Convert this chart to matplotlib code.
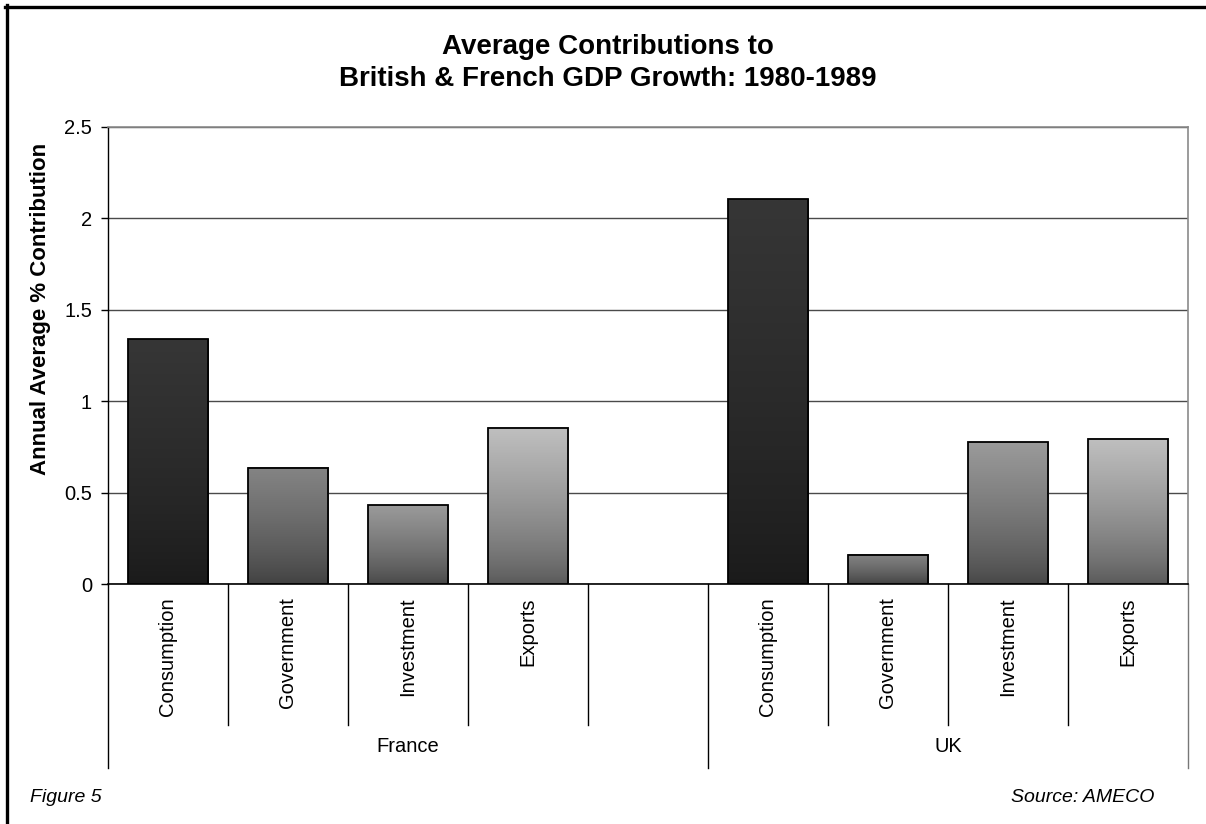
import numpy as np
import matplotlib
matplotlib.use('Agg')
import matplotlib.pyplot as plt
from matplotlib import rcParams
import matplotlib.transforms as mtransforms
from matplotlib.colors import LinearSegmentedColormap

rcParams['font.family'] = ['Liberation Sans', 'DejaVu Sans']

# data
components = ['Consumption', 'Government', 'Investment', 'Exports']
countries = ['France', 'UK']
france = [1.34, 0.635, 0.43, 0.855]
uk = [2.105, 0.16, 0.775, 0.795]
yticks = [0, 0.5, 1, 1.5, 2, 2.5]

# bottom -> top shades for each component
shades = {
    'Consumption': ('#1a1a1a', '#363636'),
    'Government': ('#404040', '#848484'),
    'Investment': ('#464646', '#9a9a9a'),
    'Exports': ('#585858', '#bfbfbf'),
}

# slot layout: 4 France bars, one empty slot, 4 UK bars
labels = components + [''] + components
n_slots = len(labels)
pos = [i for i, lab in enumerate(labels) if lab]
bar_labels = components + components
values = france + uk

fig = plt.figure(figsize=(12.06, 8.24), dpi=100)
ax = fig.add_axes([108 / 1206, (824 - 584) / 824, 1080 / 1206, 457 / 824])

bars = ax.bar(pos, values, width=0.667, facecolor='none', edgecolor='black',
              linewidth=1.3, zorder=4)

# gradient fill inside each bar
grad = np.linspace(0, 1, 256).reshape(-1, 1) ** 0.75
for lab, bar in zip(bar_labels, bars):
    c0, c1 = shades[lab]
    cmap = LinearSegmentedColormap.from_list(lab, [c0, c1])
    bx, bw, bh = bar.get_x(), bar.get_width(), bar.get_height()
    ax.imshow(grad, cmap=cmap, origin='lower', aspect='auto',
              extent=(bx, bx + bw, 0, bh), zorder=3, interpolation='bilinear')

ax.set_xlim(-0.5, n_slots - 0.5)
ax.set_ylim(0, 2.5)
ax.set_yticks(yticks)
ax.set_yticklabels(['0', '0.5', '1', '1.5', '2', '2.5'])
ax.tick_params(axis='y', direction='out', length=5, width=1, pad=6.5,
               labelsize=14.5, colors='black')
ax.set_xticks([])

ax.yaxis.grid(True, color='#4a4a4a', linewidth=1)
ax.set_axisbelow(True)
for s in ['top', 'right']:
    ax.spines[s].set_color('#8a8a8a')
    ax.spines[s].set_linewidth(1.2)
ax.spines['left'].set_linewidth(1)
ax.spines['bottom'].set_linewidth(1.2)

ax.set_ylabel('Annual Average % Contribution', fontsize=16, fontweight='bold')
ax.yaxis.set_label_coords((51 - 108) / 1080, (584 - 309) / 457)

# category dividers and labels below the axis
trans = mtransforms.blended_transform_factory(ax.transData, ax.transAxes)
short_y, long_y = -141 / 457, -184 / 457
for i in range(n_slots + 1):
    xp = i - 0.5
    is_long = i in (0, 5, n_slots)
    ax.plot([xp, xp], [0, long_y if is_long else short_y], transform=trans,
            color='#777777' if i == n_slots else 'black', linewidth=1,
            clip_on=False)
for xi, lab in enumerate(labels):
    if lab:
        ax.text(xi, -13 / 457, lab, transform=trans, rotation=90,
                ha='center', va='top', fontsize=14.5)
ax.text(2.0, -163 / 457, countries[0], transform=trans, ha='center',
        va='center', fontsize=14.5)
ax.text(6.5, -163 / 457, countries[1], transform=trans, ha='center',
        va='center', fontsize=14.5)

fig.text(608 / 1206, 1 - 63 / 824,
         'Average Contributions to\nBritish & French GDP Growth: 1980-1989',
         ha='center', va='center', fontsize=20, fontweight='bold',
         linespacing=1.3)
fig.text(30 / 1206, 1 - 797 / 824, 'Figure 5', ha='left', va='center',
         fontsize=14, style='italic')
fig.text(1154 / 1206, 1 - 797 / 824, 'Source: AMECO', ha='right',
         va='center', fontsize=14, style='italic')

# frame along the top and left edges
fig.add_artist(plt.Line2D([6.5 / 1206, 6.5 / 1206], [0, 1 - 5 / 824],
                          color='black', linewidth=2.4))
fig.add_artist(plt.Line2D([5 / 1206, 1], [1 - 6.5 / 824, 1 - 6.5 / 824],
                          color='black', linewidth=2.4))

fig.savefig('out.png', dpi=100, facecolor='white')
